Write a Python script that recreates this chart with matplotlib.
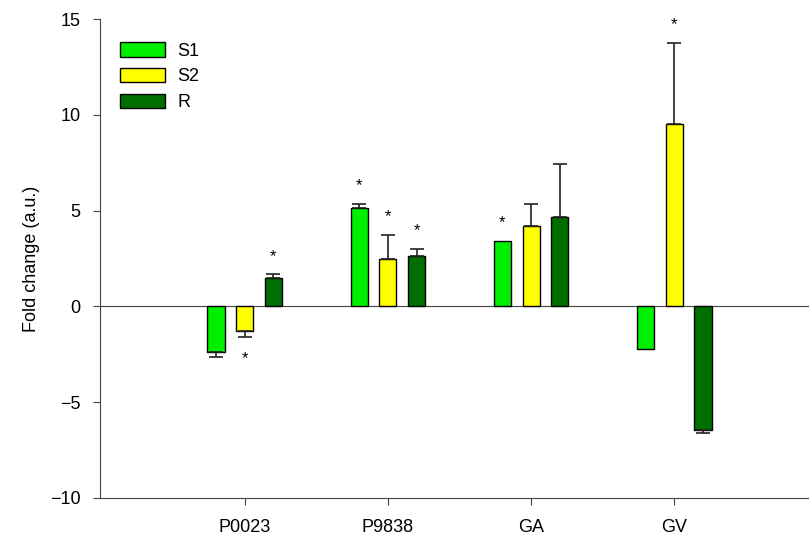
import numpy as np
import matplotlib
matplotlib.use("Agg")
import matplotlib.pyplot as plt

plt.rcParams['font.family'] = ['Liberation Sans', 'DejaVu Sans']

genes = ['P0023', 'P9838', 'GA', 'GV']
series = ['S1', 'S2', 'R']
s1 = [-2.4, 5.14, 3.42, -2.24]
s2 = [-1.3, 2.48, 4.2, 9.52]
r = [1.46, 2.64, 4.67, -6.47]
s1_err = [0.26, 0.21, 0.0, 0.0]
s2_err = [0.3, 1.25, 1.15, 4.22]
r_err = [0.21, 0.36, 2.76, 0.13]
# significance marks: (gene index, series index)
stars = [(0, 1), (0, 2), (1, 0), (1, 1), (1, 2), (2, 0), (3, 1)]

colors = ['#00ee00', '#ffff00', '#006e00']

fig = plt.figure(figsize=(8.09, 5.36), dpi=100)
ax = fig.add_axes([100 / 809, 1 - 498 / 536, 1 - 100 / 809, (498 - 19) / 536])

x = np.arange(len(genes))
w = 0.12
step = 0.2
vals = [s1, s2, r]
errs = [s1_err, s2_err, r_err]

ax.axhline(0, color='#444444', lw=0.8, zorder=1)

for i, (v, e) in enumerate(zip(vals, errs)):
    pos = x + (i - 1) * step
    v = np.array(v)
    e = np.array(e)
    ax.bar(pos, v, width=w, color=colors[i], edgecolor='black', lw=1.0,
           label=series[i], zorder=2)
    lower = np.where(v < 0, e, 0)
    upper = np.where(v >= 0, e, 0)
    keep = e > 0
    ax.errorbar(pos[keep], v[keep], yerr=[lower[keep], upper[keep]], fmt='none',
                ecolor='#222222', elinewidth=1.2, capsize=5, capthick=1.2, zorder=3)

for gi, si in stars:
    v = vals[si][gi]
    e = errs[si][gi]
    pos = x[gi] + (si - 1) * step
    if v >= 0:
        ax.text(pos, v + e + 0.95, '*', ha='center', va='center', fontsize=12)
    else:
        ax.text(pos, v - e - 1.15, '*', ha='center', va='center', fontsize=12)

ax.set_xlim(-1.01, 3.94)
ax.set_ylim(-10, 15)
ax.set_yticks([-10, -5, 0, 5, 10, 15])
ax.set_yticklabels(['\u221210', '\u22125', '0', '5', '10', '15'])
ax.set_xticks(x)
ax.set_xticklabels(genes)
ax.tick_params(axis='both', labelsize=13, length=5, width=0.8, color='#444444')
ax.tick_params(axis='x', pad=10)
ax.tick_params(axis='y', pad=9)
ax.set_ylabel('Fold change (a.u.)', fontsize=13, labelpad=7)

for s in ['top', 'right']:
    ax.spines[s].set_visible(False)
for s in ['left', 'bottom']:
    ax.spines[s].set_color('#444444')
    ax.spines[s].set_linewidth(0.8)

leg = ax.legend(loc='upper left', bbox_to_anchor=(0.005, 0.985), frameon=False,
                fontsize=13, handlelength=2.5, handleheight=0.85,
                labelspacing=0.45, handletextpad=0.7)

fig.savefig('out.png', dpi=100)
